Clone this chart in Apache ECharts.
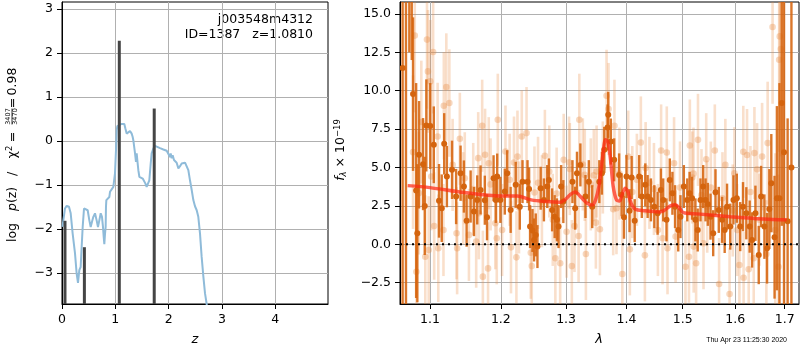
<!DOCTYPE html>
<html>
<head>
<meta charset="utf-8">
<script src="https://cdn.jsdelivr.net/npm/echarts@6/dist/echarts.min.js"></script>
<style>
html, body { margin: 0; padding: 0; background: #fff; }
#container { width: 800px; height: 350px; }
</style>
</head>
<body>
<div id="container"></div>
<script>
// tick labels
var zTicks = [0, 1, 2, 3, 4];
var pzTicks = [-3, -2, -1, 0, 1, 2, 3];
var lamTicks = [1.1, 1.2, 1.3, 1.4, 1.5, 1.6, 1.7];
var fluxTicks = [-2.5, 0, 2.5, 5, 7.5, 10, 12.5, 15];

// left panel: log p(z) curve [z, logp]
var pzCurve = [
  [0.010,-1.95],[0.025,-1.80],[0.056,-1.53],[0.088,-1.47],[0.131,-1.49],[0.163,-1.64],[0.200,-2.10],
  [0.244,-2.55],[0.275,-3.01],[0.300,-3.22],[0.325,-2.93],[0.350,-2.86],[0.369,-2.40],[0.388,-1.95],
  [0.413,-1.53],[0.450,-1.49],[0.482,-1.57],[0.513,-1.80],[0.538,-1.95],[0.563,-1.83],[0.588,-1.72],
  [0.619,-1.64],[0.650,-1.80],[0.675,-1.95],[0.700,-1.80],[0.726,-1.64],[0.750,-1.72],[0.769,-1.95],
  [0.782,-2.17],[0.794,-2.34],[0.807,-2.10],[0.819,-1.95],[0.825,-1.49],[0.832,-1.34],[0.850,-1.30],
  [0.888,-1.27],[0.901,-1.15],[0.913,-1.19],[0.938,-1.11],[0.963,-1.04],[0.994,-0.73],[1.013,-0.20],
  [1.026,0.25],[1.038,0.34],[1.075,0.33],[1.118,0.39],[1.150,0.40],[1.169,0.39],[1.188,0.29],
  [1.213,0.17],[1.244,0.21],[1.276,0.23],[1.307,0.17],[1.325,0.10],[1.338,0.02],[1.370,-0.28],
  [1.388,-0.47],[1.401,-0.28],[1.413,-0.43],[1.432,-0.66],[1.451,-0.81],[1.476,-0.85],[1.514,-0.85],
  [1.538,-0.89],[1.563,-0.96],[1.588,-1.04],[1.620,-1.05],[1.638,-0.89],[1.664,-0.51],[1.682,-0.28],
  [1.713,-0.17],[1.745,-0.11],[1.776,-0.13],[1.839,-0.16],[1.901,-0.19],[1.964,-0.22],[1.995,-0.25],
  [2.026,-0.36],[2.039,-0.28],[2.058,-0.39],[2.076,-0.32],[2.089,-0.36],[2.101,-0.43],[2.120,-0.47],
  [2.151,-0.49],[2.183,-0.62],[2.214,-0.57],[2.245,-0.51],[2.276,-0.48],[2.308,-0.49],[2.339,-0.52],
  [2.370,-0.66],[2.401,-0.89],[2.433,-1.11],[2.464,-1.34],[2.495,-1.48],[2.527,-1.57],[2.557,-1.72],
  [2.589,-2.10],[2.620,-2.63],[2.652,-3.08],[2.683,-3.46],[2.714,-3.70],[2.740,-4.05]
];
// redshift peaks
var peakZ = [0.056, 0.42, 1.075, 1.73];
var peakLogp = [-1.81, -2.41, 2.28, 0.74];

// right panel: spectrum points [lambda, flux, err]
var darkPoints = [
  [1.0637,11.48,30],[1.0681,20.0,30],[1.0725,19.0,6.5],[1.0757,17.5,5.5],[1.0774,9.78,5.0],
  [1.0815,3.5,7.0],[1.0831,0.72,4.5],[1.0854,5.83,3.5],[1.0907,5.22,3.0],[1.0930,2.50,3.2],
  [1.0951,7.74,3.0],[1.1004,7.70,2.8],[1.1052,6.48,2.5],[1.1123,2.83,2.4],[1.1160,2.35,2.2],
  [1.1194,6.54,2.0],[1.1231,4.41,2.0],[1.1302,4.85,1.9],[1.1359,3.11,1.8],[1.1421,4.63,1.8],
  [1.1468,3.76,1.7],[1.1506,1.54,1.7],[1.1563,3.11,1.7],[1.1610,2.13,1.6],[1.1657,2.89,1.6],
  [1.1705,3.54,1.6],[1.1766,2.87,1.6],[1.1798,1.76,1.5],[1.1893,4.30,1.5],[1.1926,2.89,1.5],
  [1.1946,4.41,1.5],[1.1993,2.89,1.5],[1.2058,3.43,1.5],[1.2094,4.63,1.5],[1.2145,2.24,1.5],
  [1.2221,3.87,1.5],[1.2282,2.45,1.5],[1.2323,4.08,1.4],[1.2399,4.08,1.4],[1.2423,3.60,1.4],
  [1.2438,1.15,1.4],[1.2475,0.90,1.4],[1.2499,0.28,1.4],[1.2525,0.61,1.4],[1.2551,-0.15,1.4],
  [1.2601,3.65,1.4],[1.2651,2.89,1.4],[1.2703,3.76,1.4],[1.2728,4.19,1.4],[1.2779,2.24,1.4],
  [1.2819,1.80,1.4],[1.2855,1.59,1.4],[1.2880,1.15,1.4],[1.2921,3.76,1.4],[1.2956,2.78,1.4],
  [1.3102,4.08,1.4],[1.3146,2.35,1.4],[1.3175,4.63,1.4],[1.3230,5.17,1.4],[1.3313,3.11,1.4],
  [1.3368,4.08,1.4],[1.3424,2.45,1.4],[1.3541,4.08,1.4],[1.3584,4.63,1.4],[1.3624,6.15,1.5],
  [1.3679,7.61,1.5],[1.3690,8.43,1.5],[1.3734,6.69,1.5],[1.3790,5.50,1.4],[1.3874,4.52,1.4],
  [1.3917,3.22,1.4],[1.3957,1.76,1.4],[1.4000,4.41,1.4],[1.4053,2.19,1.4],[1.4089,4.35,1.4],
  [1.4142,1.54,1.4],[1.4220,4.41,1.4],[1.4266,3.11,1.4],[1.4327,3.87,1.4],[1.4368,3.11,1.4],
  [1.4426,2.89,1.4],[1.4487,2.45,1.4],[1.4545,2.02,1.4],[1.4604,3.54,1.4],[1.4646,2.89,1.4],
  [1.4705,1.59,1.4],[1.4764,4.19,1.4],[1.4812,3.32,1.4],[1.4860,2.45,1.4],[1.4918,0.93,1.4],
  [1.4959,1.80,1.4],[1.5021,3.76,1.4],[1.5084,2.89,1.4],[1.5127,3.32,1.4],[1.5173,3.00,1.4],
  [1.5236,1.59,1.4],[1.5279,0.93,1.4],[1.5331,2.89,1.4],[1.5382,3.76,1.4],[1.5426,2.89,1.4],
  [1.5470,2.60,1.4],[1.5521,1.80,1.5],[1.5572,0.72,1.5],[1.5616,3.39,1.5],[1.5679,2.24,1.5],
  [1.5743,1.59,1.5],[1.5793,0.93,1.5],[1.5839,2.45,1.5],[1.5901,1.15,1.5],[1.5964,2.89,1.6],
  [1.6030,3.00,1.6],[1.6097,1.15,1.6],[1.6152,2.45,1.6],[1.6218,2.02,1.7],[1.6285,1.15,1.7],
  [1.6333,0.28,1.8],[1.6400,2.02,1.8],[1.6467,-0.70,1.9],[1.6515,3.11,2.0],[1.6582,1.15,2.1],
  [1.6636,-0.26,2.3],[1.6683,2.30,2.6],[1.6723,3.98,3.2],[1.6790,0.46,4.0],[1.6838,3.00,6.0],
  [1.6891,3.00,7.5],[1.6939,9.20,8.0],[1.6986,6.0,25],[1.7061,1.5,6.7],[1.7141,5.0,25]
];
var lightPoints = [
  [1.0774,6.00,5.0],[1.0797,13.59,5.0],[1.0818,-1.79,4.0],[1.0850,3.33,4.0],[1.0884,7.96,4.0],
  [1.0937,-0.81,4.0],[1.0960,13.33,4.5],[1.0973,11.26,4.0],[1.0983,-0.37,3.5],[1.1004,10.61,4.0],
  [1.1018,4.41,3.5],[1.1043,12.52,4.0],[1.1057,1.19,3.5],[1.1104,7.02,3.5],[1.1113,-0.26,3.5],
  [1.1184,0.93,3.0],[1.1189,9.02,3.5],[1.1223,10.24,3.5],[1.1265,9.20,3.5],[1.1310,5.17,3.0],
  [1.1365,0.72,3.0],[1.1373,-0.26,3.0],[1.1411,6.87,3.0],[1.1458,3.00,3.0],[1.1480,4.30,3.0],
  [1.1539,0.61,3.0],[1.1600,3.60,3.0],[1.1642,0.17,3.0],[1.1671,5.61,3.0],[1.1681,2.02,3.0],
  [1.1728,7.72,3.0],[1.1738,-2.11,3.0],[1.1770,5.83,3.0],[1.1813,-1.57,3.0],[1.1823,5.28,3.0],
  [1.1850,3.90,3.0],[1.1918,1.37,3.0],[1.1940,0.39,3.0],[1.1955,8.11,3.0],[1.2018,0.93,3.0],
  [1.2068,6.04,3.0],[1.2130,4.20,3.0],[1.2150,-0.20,3.0],[1.2195,5.32,3.0],[1.2231,-0.85,3.0],
  [1.2247,5.71,3.0],[1.2270,2.40,3.0],[1.2312,7.02,3.0],[1.2384,7.24,3.0],[1.2449,-0.55,3.0],
  [1.2464,-1.42,3.0],[1.2505,3.37,3.0],[1.2560,4.00,3.0],[1.2620,2.80,3.0],[1.2666,5.76,3.0],
  [1.2735,4.74,3.0],[1.2789,1.59,3.0],[1.2830,-0.91,3.0],[1.2850,3.30,3.0],[1.2906,-1.24,3.0],
  [1.2962,5.50,3.0],[1.3008,0.82,3.0],[1.3047,5.32,3.0],[1.3060,4.90,3.0],[1.3092,-1.42,3.0],
  [1.3135,1.19,3.0],[1.3201,0.54,3.0],[1.3213,8.11,3.0],[1.3270,5.20,3.0],[1.3301,4.52,3.0],
  [1.3320,-0.63,3.0],[1.3400,3.90,3.0],[1.3450,4.50,3.0],[1.3484,1.41,3.0],[1.3496,4.74,3.0],
  [1.3551,0.98,3.0],[1.3600,5.00,3.0],[1.3662,9.67,3.0],[1.3695,8.81,3.0],[1.3774,2.28,3.0],
  [1.3795,7.72,3.0],[1.3829,2.35,3.0],[1.3880,4.60,3.0],[1.3929,-1.94,3.5],[1.4030,5.71,3.0],
  [1.4058,-0.33,3.0],[1.4100,3.40,3.0],[1.4180,4.20,3.0],[1.4249,6.63,3.0],[1.4320,-0.72,3.0],
  [1.4333,4.96,3.0],[1.4400,4.00,3.0],[1.4480,3.60,3.0],[1.4550,0.93,3.0],[1.4608,6.11,3.0],
  [1.4634,0.39,3.0],[1.4710,5.98,3.0],[1.4723,-0.26,3.0],[1.4842,5.28,3.0],[1.4870,0.50,3.0],
  [1.4950,3.70,3.0],[1.5051,-1.46,3.0],[1.5116,-0.81,3.0],[1.5132,6.43,3.0],[1.5178,4.35,3.0],
  [1.5200,4.60,3.0],[1.5203,-0.15,3.0],[1.5249,-1.24,3.0],[1.5284,6.80,3.0],[1.5350,3.20,3.0],
  [1.5388,0.07,3.0],[1.5439,5.54,3.0],[1.5458,2.45,3.0],[1.5527,3.69,3.0],[1.5603,6.11,3.0],
  [1.5685,-2.59,3.0],[1.5750,3.00,3.0],[1.5806,5.17,3.0],[1.5888,-3.24,3.0],[1.5950,2.20,3.0],
  [1.5983,4.63,3.0],[1.6036,0.93,3.0],[1.6081,-1.35,3.0],[1.6158,6.02,3.0],[1.6164,-2.18,3.0],
  [1.6232,5.81,3.0],[1.6265,-1.63,3.0],[1.6300,3.40,3.0],[1.6366,-0.91,3.0],[1.6380,5.94,3.0],
  [1.6434,4.89,3.0],[1.6480,1.60,3.0],[1.6535,5.71,3.5],[1.6622,-0.63,3.5],[1.6648,6.59,4.0],
  [1.6749,14.15,5.0],[1.6804,0.93,5.0],[1.6871,-1.46,6.0],[1.6885,12.02,6.0],[1.6897,13.54,6.0],
  [1.6919,12.72,7.0]
];
// best-fit model [lambda, flux]
var modelLine = [
  [1.0703,3.82],[1.1000,3.69],[1.1472,3.37],[1.1993,3.15],[1.2247,3.15],[1.2454,2.89],[1.2703,2.78],
  [1.2906,2.74],[1.2980,2.89],[1.3063,3.22],[1.3146,3.41],[1.3230,3.11],[1.3341,2.67],[1.3424,2.56],
  [1.3479,2.89],[1.3534,3.76],[1.3590,5.50],[1.3645,6.80],[1.3684,6.69],[1.3729,5.50],[1.3774,3.76],
  [1.3829,2.89],[1.3884,2.82],[1.3924,3.22],[1.3978,3.65],[1.4025,3.43],[1.4078,2.67],[1.4154,2.28],
  [1.4302,2.19],[1.4568,2.11],[1.4657,2.19],[1.4776,2.50],[1.4865,2.58],[1.4941,2.35],[1.5013,2.06],
  [1.5268,1.98],[1.5901,1.80],[1.6565,1.65],[1.7040,1.59]
];

var pzMin = -3.70, pzMax = 3.16;
var lamMin = 1.0603, lamMax = 1.7301;
var fMin = -3.89, fMax = 15.78;

var FONT = 'DejaVu Sans';
function minus(v) { return String(v).replace('-', '\u2212'); }
function lg(v) { return Math.log10(v); }

var dom = document.getElementById('container');
var myChart = echarts.init(dom, null, { renderer: 'canvas' });

function errRender(barColor, dotColor, w, r) {
  return function (params, api) {
    var x = api.value(0), y = api.value(1), e = api.value(2);
    var top = api.coord([x, y + e]);
    var bot = api.coord([x, y - e]);
    var c = api.coord([x, y]);
    return {
      type: 'group',
      children: [
        { type: 'line', shape: { x1: top[0], y1: top[1], x2: bot[0], y2: bot[1] },
          style: { stroke: barColor, lineWidth: w } },
        { type: 'circle', shape: { cx: c[0], cy: c[1], r: r }, style: { fill: dotColor } }
      ]
    };
  };
}

// rotated text helper (reads bottom to top)
function vtext(x, y, text, size, align, extra) {
  var st = { text: text, fontFamily: FONT, fontSize: size, fill: '#000', align: align || 'center', verticalAlign: 'middle' };
  if (extra) { for (var k in extra) { st[k] = extra[k]; } }
  return { type: 'text', x: x, y: y, rotation: Math.PI / 2, style: st };
}

var axisLbl = { color: '#000', fontFamily: FONT, fontSize: 12.5, margin: 9 };
var tick = { show: true, inside: false, length: 5, lineStyle: { color: '#000', width: 1 } };
var split = { show: true, lineStyle: { color: '#b0b0b0', width: 1 } };

option = {
  animation: false,
  grid: [
    { left: 62, top: 2, width: 266, height: 302, show: true, borderColor: '#000', borderWidth: 1, backgroundColor: '#fff' },
    { left: 400, top: 2, width: 399, height: 302, show: true, borderColor: '#000', borderWidth: 1, backgroundColor: '#fff' }
  ],
  xAxis: [
    {
      gridIndex: 0, type: 'value', min: 0, max: 4.99,
      axisLine: { show: true, onZero: false, lineStyle: { color: '#000' } },
      axisTick: Object.assign({ customValues: zTicks }, tick),
      axisLabel: Object.assign({ customValues: zTicks, formatter: function (v) { return minus(v); } }, axisLbl),
      splitLine: split
    },
    {
      gridIndex: 1, type: 'value', min: lg(lamMin), max: lg(lamMax),
      axisLine: { show: true, onZero: false, lineStyle: { color: '#000' } },
      axisTick: Object.assign({ customValues: lamTicks.map(lg) }, tick),
      axisLabel: Object.assign({ customValues: lamTicks.map(lg),
        formatter: function (v) { return Math.pow(10, v).toFixed(1); } }, axisLbl),
      splitLine: split
    }
  ],
  yAxis: [
    {
      gridIndex: 0, type: 'value', min: pzMin, max: pzMax,
      axisLine: { show: true, onZero: false, lineStyle: { color: '#000' } },
      axisTick: Object.assign({ customValues: pzTicks }, tick),
      axisLabel: Object.assign({ customValues: pzTicks, formatter: function (v) { return minus(v); } }, axisLbl),
      splitLine: split
    },
    {
      gridIndex: 1, type: 'value', min: fMin, max: fMax,
      axisLine: { show: true, onZero: false, lineStyle: { color: '#000' } },
      axisTick: Object.assign({ customValues: fluxTicks }, tick),
      axisLabel: Object.assign({ customValues: fluxTicks,
        formatter: function (v) { return minus(v.toFixed(1)); } }, axisLbl),
      splitLine: split
    }
  ],
  graphic: [
    { type: 'text', x: 313, y: 20, style: { text: 'j003548m4312', fontFamily: FONT, fontSize: 12.5, fill: '#000', align: 'right', verticalAlign: 'middle' } },
    { type: 'text', x: 313, y: 34.5, style: { text: 'ID=1387   z=1.0810', fontFamily: FONT, fontSize: 12.5, fill: '#000', align: 'right', verticalAlign: 'middle' } },
    { type: 'text', x: 195, y: 340, style: { text: 'z', fontFamily: FONT, fontStyle: 'italic', fontSize: 13, fill: '#000', align: 'center', verticalAlign: 'middle' } },
    { type: 'text', x: 599, y: 340, style: { text: '\u03bb', fontFamily: FONT, fontStyle: 'italic', fontSize: 13, fill: '#000', align: 'center', verticalAlign: 'middle' } },
    { type: 'text', x: 787, y: 340.5, style: { text: 'Thu Apr 23 11:25:30 2020', fontFamily: 'Liberation Sans', fontSize: 7, fill: '#000', align: 'right', verticalAlign: 'middle' } },
    // left y label: log p(z) / chi^2 = 3407/3470 = 0.98
    vtext(13, 242, 'log', 12.5, 'left'),
    vtext(13, 211, '{i|p}(z)', 12.5, 'left', { rich: { i: { fontFamily: FONT, fontSize: 12.5, fontStyle: 'italic' } } }),
    vtext(13, 174, '/', 12.5, 'center'),
    vtext(13, 152, '\u03c7{sup|2}', 12.5, 'center', { rich: { sup: { fontFamily: FONT, fontSize: 8.5, padding: [0, 0, 7, 0] } } }),
    vtext(13, 137, '=', 12.5, 'center'),
    vtext(8.8, 116.5, '3407', 6.5, 'center'),
    { type: 'line', shape: { x1: 12, y1: 108.5, x2: 12, y2: 124.5 }, style: { stroke: '#000', lineWidth: 0.8 } },
    vtext(15.3, 116.5, '3470', 6.5, 'center'),
    vtext(13, 103, '=', 12.5, 'center'),
    vtext(13, 81.5, '0.98', 12.5, 'center'),
    // right y label
    vtext(341, 150, '{i|f}{sub|\u03bb} \u00d7 10{sup|\u221219}', 12.5, 'center', {
      rich: { i: { fontFamily: FONT, fontSize: 12.5, fontStyle: 'italic' },
              sub: { fontFamily: FONT, fontSize: 8.5, fontStyle: 'italic', padding: [6, 0, 0, 0] },
              sup: { fontFamily: FONT, fontSize: 8.5, padding: [0, 0, 7, 0] } } })
  ],
  series: [
    {
      name: 'pz', type: 'line', xAxisIndex: 0, yAxisIndex: 0,
      data: pzCurve, showSymbol: false, smooth: false, clip: true,
      lineStyle: { color: '#8fbbd9', width: 2 }, z: 2
    },
    {
      name: 'peaks', type: 'custom', xAxisIndex: 0, yAxisIndex: 0, clip: true, z: 3,
      data: peakZ.map(function (z, i) { return [z, peakLogp[i]]; }),
      renderItem: function (params, api) {
        var a = api.coord([api.value(0), api.value(1)]);
        var b = api.coord([api.value(0), pzMin]);
        return { type: 'rect', shape: { x: a[0] - 1.5, y: a[1], width: 3, height: b[1] - a[1] }, style: { fill: '#454545' } };
      }
    },
    {
      name: 'light', type: 'custom', xAxisIndex: 1, yAxisIndex: 1, clip: true, z: 2,
      data: lightPoints.map(function (p) { return [lg(p[0]), p[1], p[2]]; }),
      renderItem: errRender('rgba(232,140,70,0.28)', 'rgba(232,140,70,0.35)', 2.6, 3.3)
    },
    {
      name: 'dark', type: 'custom', xAxisIndex: 1, yAxisIndex: 1, clip: true, z: 3,
      data: darkPoints.map(function (p) { return [lg(p[0]), p[1], p[2]]; }),
      renderItem: errRender('rgba(214,100,14,0.88)', '#d4640e', 2.4, 3.0)
    },
    {
      name: 'model', type: 'line', xAxisIndex: 1, yAxisIndex: 1, clip: true, z: 4,
      data: modelLine.map(function (p) { return [lg(p[0]), p[1]]; }),
      showSymbol: false, smooth: 0.3,
      lineStyle: { color: 'rgba(255,40,20,0.72)', width: 3.5 }
    },
    {
      name: 'zero', type: 'line', xAxisIndex: 1, yAxisIndex: 1, z: 5,
      data: [[lg(lamMin), 0], [lg(lamMax), 0]], showSymbol: false,
      lineStyle: { color: '#000', width: 2, type: [2, 4] }
    }
  ]
};

if (option && typeof option === 'object') {
  myChart.setOption(option, true);
}
</script>
</body>
</html>
